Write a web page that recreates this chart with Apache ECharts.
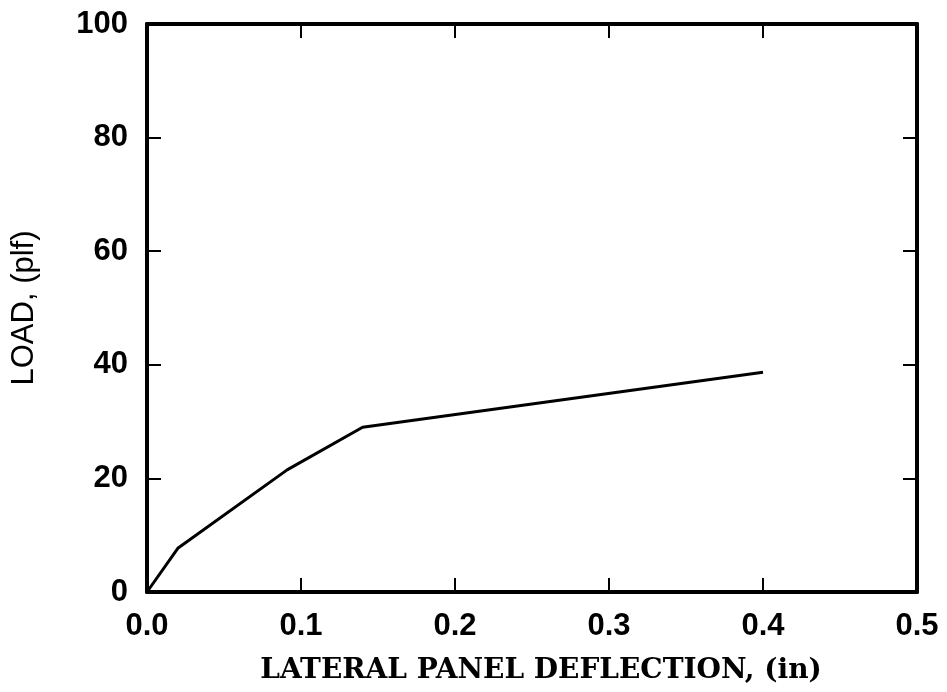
<!DOCTYPE html>
<html>
<head>
<meta charset="utf-8">
<script src="https://cdn.jsdelivr.net/npm/echarts@6/dist/echarts.min.js"></script>
<style>
  html, body { margin: 0; padding: 0; background: #fff; }
  #chart { width: 947px; height: 692px; }
</style>
</head>
<body>
<div id="chart"></div>
<script>
// Load–deflection curve of the panel
const deflection = [0, 0.02, 0.091, 0.14, 0.40];   // in
const load = [0, 7.7, 21.5, 29.0, 38.7];           // plf

const xTicks = [0, 0.1, 0.2, 0.3, 0.4, 0.5];
const yTicks = [0, 20, 40, 60, 80, 100];

const xTitle = 'LATERAL PANEL DEFLECTION, (in)';
const yTitle = 'LOAD, (plf)';

const points = deflection.map((d, i) => [d, load[i]]);

const frameLine = { show: true, onZero: false, lineStyle: { color: '#000', width: 4 } };
const innerTick = { show: true, inside: true, length: 14, lineStyle: { color: '#000', width: 2 } };
const tickFont = { color: '#000', fontFamily: 'Liberation Sans', fontSize: 31, fontWeight: 'bold' };

const chart = echarts.init(document.getElementById('chart'), null, { renderer: 'canvas' });
chart.setOption({
  animation: false,
  backgroundColor: '#fff',
  grid: { left: 147, right: 30, top: 24, bottom: 100, containLabel: false },
  xAxis: [
    {
      type: 'value', position: 'bottom',
      min: xTicks[0], max: xTicks[xTicks.length - 1], interval: 0.1,
      axisLine: frameLine, axisTick: innerTick, splitLine: { show: false },
      axisLabel: Object.assign({ margin: 19, formatter: v => v.toFixed(1) }, tickFont),
      name: xTitle, nameLocation: 'middle', nameGap: 65,
      nameTextStyle: { color: '#000', fontFamily: 'DejaVu Serif', fontWeight: 'bold', fontSize: 28, padding: [0, 0, 0, 18] }
    },
    {
      type: 'value', position: 'top',
      min: xTicks[0], max: xTicks[xTicks.length - 1], interval: 0.1,
      axisLine: frameLine, axisTick: innerTick, splitLine: { show: false },
      axisLabel: { show: false }
    }
  ],
  yAxis: [
    {
      type: 'value', position: 'left',
      min: yTicks[0], max: yTicks[yTicks.length - 1], interval: 20,
      axisLine: frameLine, axisTick: innerTick, splitLine: { show: false },
      axisLabel: Object.assign({ margin: 19 }, tickFont),
      name: yTitle, nameLocation: 'middle', nameGap: 107,
      nameTextStyle: { color: '#000', fontFamily: 'Liberation Sans', fontSize: 31 }
    },
    {
      type: 'value', position: 'right',
      min: yTicks[0], max: yTicks[yTicks.length - 1], interval: 20,
      axisLine: frameLine, axisTick: innerTick, splitLine: { show: false },
      axisLabel: { show: false }
    }
  ],
  series: [
    {
      type: 'line',
      data: points,
      showSymbol: false,
      lineStyle: { color: '#000', width: 3 },
      xAxisIndex: 0, yAxisIndex: 0
    }
  ]
});
</script>
</body>
</html>
